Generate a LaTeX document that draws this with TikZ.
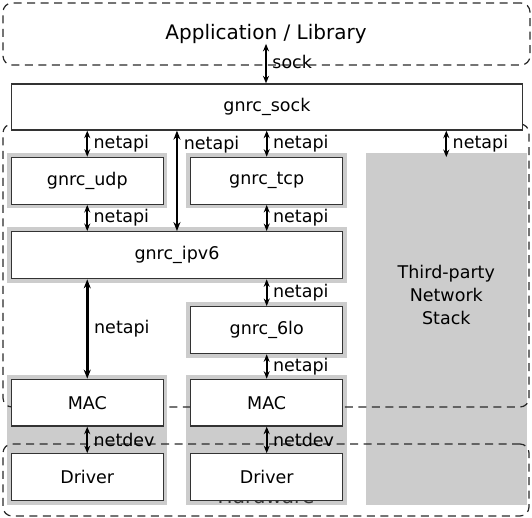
\documentclass[tikz,border=0pt]{standalone}
\usepackage{fontspec}
\setmainfont{DejaVu Sans}
\usetikzlibrary{arrows.meta}
\definecolor{boxgray}{HTML}{CCCCCC}
\definecolor{edgec}{HTML}{333333}
\definecolor{dashc}{HTML}{2A2A2A}
\begin{document}
\begin{tikzpicture}[x=1pt,y=-1pt,
  wbox/.style={draw=edgec, fill=white, line width=1.3pt, rectangle, inner sep=0pt,
    font=\fontsize{17.5}{21}\selectfont},
  gfill/.style={fill=boxgray, draw=none, rectangle, inner sep=0pt},
  region/.style={draw=dashc, line width=1.25pt, dash pattern=on 8pt off 5.5pt,
    rounded corners=9pt, rectangle, inner sep=0pt},
  link/.style={line width=1.8pt, {Stealth[length=7.5pt,width=6pt]}-{Stealth[length=7.5pt,width=6pt]}},
  biglink/.style={line width=2.8pt, {Stealth[length=9pt,width=7pt]}-{Stealth[length=9pt,width=7pt]}},
  lbl/.style={anchor=west, inner sep=0pt, xshift=5.5pt, font=\fontsize{17.5}{21}\selectfont}
]
\useasboundingbox (0,0) rectangle (532,518);

% grey backgrounds
\fill[boxgray] (6.8,153.3) rectangle (167.3,208.3);
\fill[boxgray] (186,153.3) rectangle (346.7,208.3);
\fill[boxgray] (6.8,227.3) rectangle (346.7,283.2);
\fill[boxgray] (186,302.3) rectangle (346.7,358.2);
\fill[boxgray] (6.8,374.8) rectangle (167.3,505);
\fill[boxgray] (186,374.8) rectangle (346.7,505);
\node[gfill, minimum width=160.6pt, minimum height=351.7pt] (third) at (446.3,329.15) {};
\node[font=\fontsize{17.5}{22.9}\selectfont, align=center, inner sep=0pt] (thirdtxt) at (446.3,294.7) {Third-party\\Network\\Stack};

% dashed regions
\node[region, minimum width=527pt, minimum height=62pt] (appregion) at (266.5,34) {};
\node[region, minimum width=526pt, minimum height=283pt] (stackregion) at (266,265.5) {};
\node[region, minimum width=526pt, minimum height=72pt] (hwregion) at (266,480) {};
\node[font=\fontsize{20}{24}\selectfont, anchor=base, inner sep=0pt, text=edgec] (hwlabel) at (266,503) {Hardware};

\node[font=\fontsize{20}{24}\selectfont, inner sep=0pt] (app) at (266,34) {Application / Library};

% white boxes
\node[wbox, minimum width=511.4pt, minimum height=46pt] (sock) at (266.9,107) {gnrc\_sock};
\node[wbox, minimum width=152.1pt, minimum height=47pt] (udp) at (87.25,180.8) {gnrc\_udp};
\node[wbox, minimum width=152pt, minimum height=47pt] (tcp) at (266.7,180.8) {gnrc\_tcp};
\node[wbox, minimum width=331.5pt, minimum height=47pt] (ipv6) at (176.95,255.2) {gnrc\_ipv6};
\node[wbox, minimum width=152pt, minimum height=47pt] (sixlo) at (266.7,330.2) {gnrc\_6lo};
\node[wbox, minimum width=152.1pt, minimum height=46.7pt] (macl) at (87.25,402.65) {MAC};
\node[wbox, minimum width=152pt, minimum height=46.7pt] (macr) at (266.7,402.65) {MAC};
\node[wbox, minimum width=152.1pt, minimum height=46.7pt] (drvl) at (87.25,477.15) {Driver};
\node[wbox, minimum width=152pt, minimum height=46.7pt] (drvr) at (266.7,477.15) {Driver};

% connectors
\draw[link] (app.south) -- (app.south |- sock.north) node[lbl, midway, yshift=2pt] {sock};
\draw[link] (udp.north |- sock.south) -- (udp.north) node[lbl, midway] {netapi};
\draw[biglink] (ipv6.north |- sock.south) -- (ipv6.north) node[lbl, pos=0.14] {netapi};
\draw[link] (tcp.north |- sock.south) -- (tcp.north) node[lbl, midway] {netapi};
\coordinate (thirdtop) at ([yshift=-4pt]third.north);
\draw[link] (thirdtop |- sock.south) -- (thirdtop) node[lbl, midway] {netapi};
\draw[link] (udp.south) -- (udp.south |- ipv6.north) node[lbl, midway] {netapi};
\draw[link] (tcp.south) -- (tcp.south |- ipv6.north) node[lbl, midway] {netapi};
\draw[link] (sixlo.north |- ipv6.south) -- (sixlo.north) node[lbl, midway] {netapi};
\draw[biglink] (macl.north |- ipv6.south) -- (macl.north) node[lbl, midway] {netapi};
\draw[link] (sixlo.south) -- (macr.north) node[lbl, midway] {netapi};
\draw[link] (macl.south) -- (drvl.north) node[lbl, midway] {netdev};
\draw[link] (macr.south) -- (drvr.north) node[lbl, midway] {netdev};
\end{tikzpicture}
\end{document}
